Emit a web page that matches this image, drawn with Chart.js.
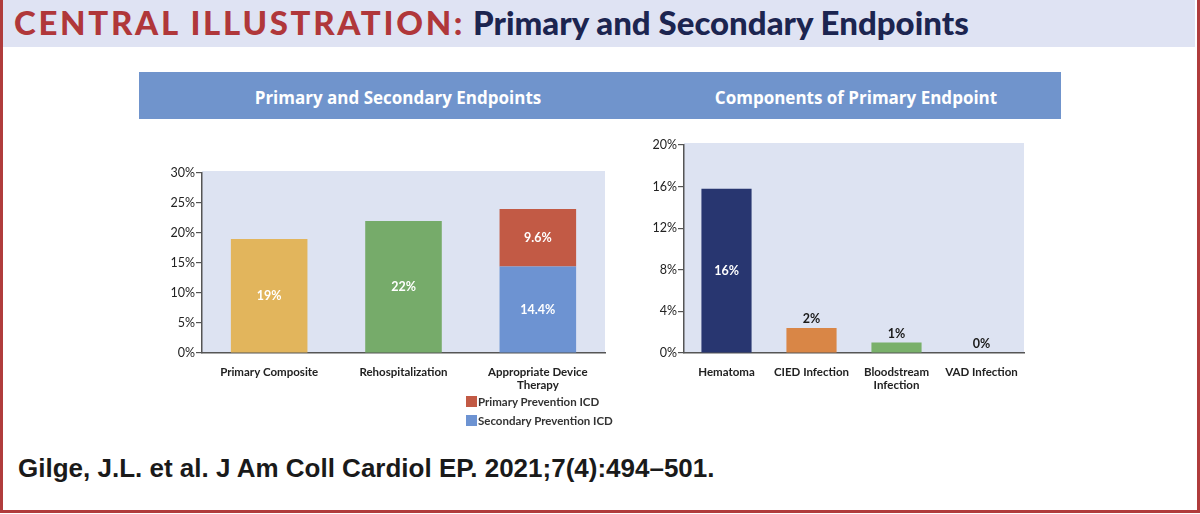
<!DOCTYPE html>
<html>
<head>
    <title>Central Illustration: Primary and Secondary Endpoints</title>
    <style>
        html, body { margin: 0; padding: 0; }
        body { width: 1200px; height: 514px; position: relative; overflow: hidden; background: #fff; font-family: Lato, "Open Sans", sans-serif; }
        #frame { position: absolute; left: 0; top: 0; width: 1194px; height: 510px; border: 3px solid #b03c3c; border-top: none; }
        #header { position: absolute; left: 3px; top: 0; width: 1192px; height: 47px; background: #dfe3f3; }
        #title { position: absolute; left: 11px; top: 2px; font-size: 33px; font-weight: 900; white-space: nowrap; }
        #title .red { color: #b0373a; letter-spacing: 2.7px; }
        #title .navy { color: #1c2550; letter-spacing: 0; }
        #band { position: absolute; left: 139px; top: 72px; width: 922px; height: 47px; background: #7094cc; }
        .bandtxt { position: absolute; top: 14px; color: #fff; font-family: "Liberation Sans Narrow", "Open Sans", sans-serif; font-weight: bold; font-size: 17px; white-space: nowrap; transform: translateX(-50%); }
        #cite { position: absolute; left: 18px; top: 453px; font-family: "Liberation Sans Narrow", sans-serif; font-weight: bold; font-size: 26px; color: #1a1a1a; white-space: nowrap; }
        #leftWrap { position: absolute; left: 140px; top: 160px; width: 480px; height: 245px; }
        #rightWrap { position: absolute; left: 630px; top: 130px; width: 410px; height: 270px; }
        #legend { position: absolute; left: 466px; top: 392px; font-size: 11.5px; font-weight: bold; color: #333; line-height: 19px; }
        #legend span.sw { display: inline-block; width: 11px; height: 11px; vertical-align: -1px; margin-right: 1px; }
    </style>
</head>
<body>
    <div id="frame"></div>
    <div id="header"><div id="title"><span class="red">CENTRAL ILLUSTRATION:</span> <span class="navy">Primary and Secondary Endpoints</span></div></div>
    <div id="band">
        <div class="bandtxt" style="left:259px">Primary and Secondary Endpoints</div>
        <div class="bandtxt" style="left:717px">Components of Primary Endpoint</div>
    </div>
    <div id="leftWrap"><canvas id="leftChart"></canvas></div>
    <div id="rightWrap"><canvas id="rightChart"></canvas></div>
    <div id="legend"></div>
    <div id="cite">Gilge, J.L. et al. J Am Coll Cardiol EP. 2021;7(4):494–501.</div>

    <script src="https://cdn.jsdelivr.net/npm/chart.js"></script>
    <script>
        // left panel: primary and secondary endpoints
        const endpointLabels = [["Primary Composite"], ["Rehospitalization"], ["Appropriate Device", "Therapy"]];
        const endpointTotals = [19, 22, null];
        const endpointColors = ["#e2b55c", "#76ab6a", "#ffffff"];
        const secondaryICD = [null, null, 14.4];
        const primaryICD = [null, null, 9.6];
        const leftTicks = [0, 5, 10, 15, 20, 25, 30];

        // right panel: components of primary endpoint
        const componentLabels = [["Hematoma"], ["CIED Infection"], ["Bloodstream", "Infection"], ["VAD Infection"]];
        const componentValues = [15.8, 2.4, 1.0, 0];
        const componentText = ["16%", "2%", "1%", "0%"];
        const componentColors = ["#283670", "#d98646", "#79b06a", "#888888"];
        const rightTicks = [0, 4, 8, 12, 16, 20];

        const legendItems = [
            { name: "Primary Prevention ICD", color: "#c25a45" },
            { name: "Secondary Prevention ICD", color: "#6d93d2" }
        ];

        document.getElementById("legend").innerHTML = legendItems
            .map(it => `<div><span class="sw" style="background:${it.color}"></span>${it.name}</div>`).join("");

        const plotBg = {
            id: "plotBg",
            beforeDraw(chart) {
                const a = chart.chartArea, ctx = chart.ctx;
                ctx.save();
                ctx.fillStyle = "#dde3f2";
                ctx.fillRect(a.left, a.top - 2, a.right - a.left, a.bottom - a.top + 2);
                ctx.restore();
            }
        };

        // draws value text inside (or above) bars
        const barText = {
            id: "barText",
            afterDatasetsDraw(chart) {
                const ctx = chart.ctx;
                ctx.save();
                ctx.font = "bold 12.5px Lato, sans-serif";
                ctx.textAlign = "center";
                ctx.textBaseline = "middle";
                chart.data.datasets.forEach((ds, di) => {
                    if (!ds.texts) return;
                    chart.getDatasetMeta(di).data.forEach((bar, i) => {
                        const t = ds.texts[i];
                        if (!t) return;
                        if (ds.textOutside && ds.textOutside[i]) {
                            ctx.fillStyle = "#1a1a1a";
                            ctx.fillText(t, bar.x, bar.y - 9);
                        } else {
                            ctx.fillStyle = "#ffffff";
                            ctx.fillText(t, bar.x, (bar.y + bar.base) / 2);
                        }
                    });
                });
                ctx.restore();
            }
        };

        function axisOpts(ticks, max, yWidth, xHeight) {
            return {
                x: {
                    stacked: true,
                    grid: { display: false },
                    border: { color: "#555", width: 1.5 },
                    ticks: { color: "#222", font: { size: 11.5, weight: "bold", family: "Lato" }, padding: 4, maxRotation: 0, autoSkip: false },
                    afterFit(s) { s.height = xHeight; }
                },
                y: {
                    stacked: true,
                    min: 0, max: max,
                    afterBuildTicks(s) { s.ticks = ticks.map(v => ({ value: v })); },
                    grid: { drawOnChartArea: false, drawTicks: true, tickLength: 6, color: "#555", lineWidth: 1.2 },
                    border: { color: "#555", width: 1.5 },
                    ticks: { color: "#222", font: { size: 12.5, family: "Lato" }, padding: 1, callback: v => v + "%" },
                    afterFit(s) { s.width = yWidth; }
                }
            };
        }

        new Chart(document.getElementById("leftChart"), {
            type: "bar",
            data: {
                labels: endpointLabels,
                datasets: [
                    { label: "Endpoint", data: endpointTotals, backgroundColor: endpointColors, texts: ["19%", "22%", null] },
                    { label: "Secondary Prevention ICD", data: secondaryICD, backgroundColor: legendItems[1].color, texts: [null, null, "14.4%"] },
                    { label: "Primary Prevention ICD", data: primaryICD, backgroundColor: legendItems[0].color, texts: [null, null, "9.6%"] }
                ]
            },
            options: {
                responsive: true,
                maintainAspectRatio: false,
                animation: false,
                categoryPercentage: 1,
                barPercentage: 0.57,
                layout: { padding: { top: 13, right: 15, left: 0, bottom: 0 } },
                plugins: { legend: { display: false }, tooltip: { enabled: false } },
                scales: axisOpts(leftTicks, 30, 62, 52)
            },
            plugins: [plotBg, barText]
        });

        new Chart(document.getElementById("rightChart"), {
            type: "bar",
            data: {
                labels: componentLabels,
                datasets: [
                    { label: "Components", data: componentValues, backgroundColor: componentColors, texts: componentText, textOutside: [false, true, true, true] }
                ]
            },
            options: {
                responsive: true,
                maintainAspectRatio: false,
                animation: false,
                categoryPercentage: 1,
                barPercentage: 0.59,
                layout: { padding: { top: 15, right: 16, left: 0, bottom: 0 } },
                plugins: { legend: { display: false }, tooltip: { enabled: false } },
                scales: axisOpts(rightTicks, 20, 54, 47)
            },
            plugins: [plotBg, barText]
        });
    </script>
</body>
</html>
